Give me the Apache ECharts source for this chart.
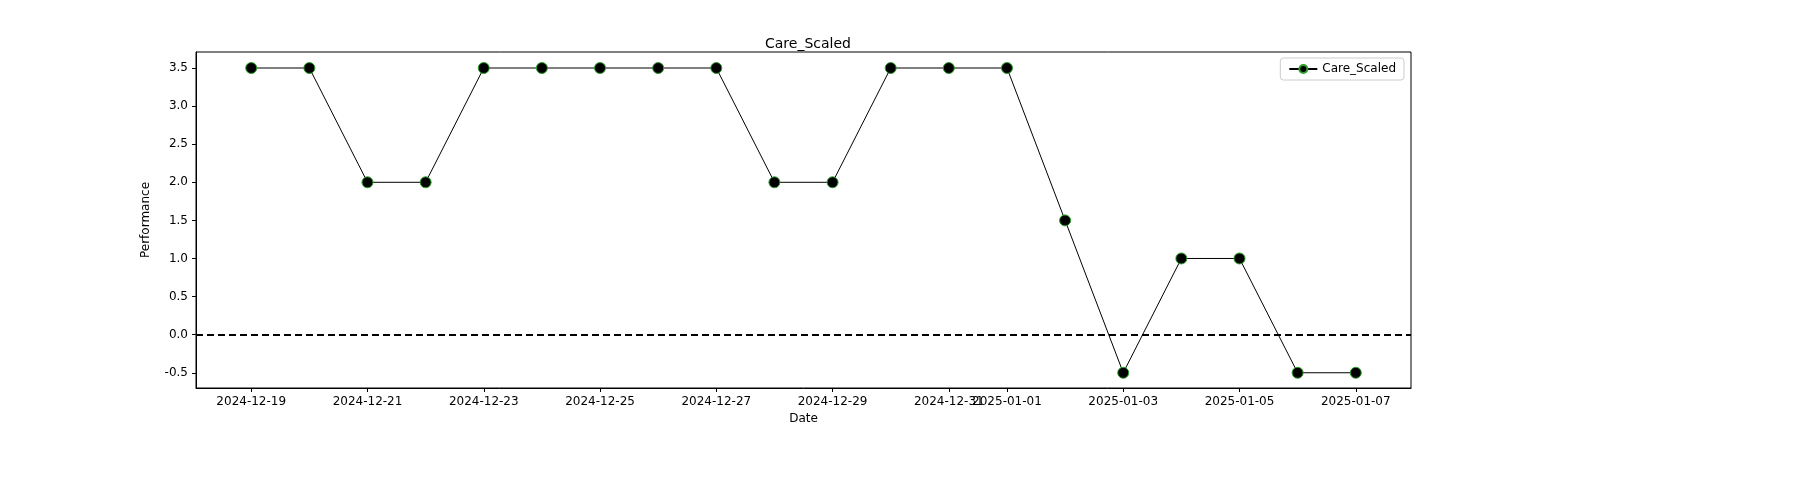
<!DOCTYPE html>
<html>
<head>
<meta charset="utf-8">
<script src="https://cdn.jsdelivr.net/npm/echarts@6/dist/echarts.min.js"></script>
<style>html,body{margin:0;padding:0;background:#fff}#main{width:1800px;height:500px}</style>
</head>
<body>
<div id="main"></div>
<script>
var dates = ['2024-12-19', '2024-12-20', '2024-12-21', '2024-12-22', '2024-12-23', '2024-12-24', '2024-12-25',
    '2024-12-26', '2024-12-27', '2024-12-28', '2024-12-29', '2024-12-30', '2024-12-31', '2025-01-01',
    '2025-01-02', '2025-01-03', '2025-01-04', '2025-01-05', '2025-01-06', '2025-01-07'];
var careScaled = [3.5, 3.5, 2, 2, 3.5, 3.5, 3.5, 3.5, 3.5, 2, 2, 3.5, 3.5, 3.5, 1.5, -0.5, 1, 1, -0.5, -0.5];
var xTickIdx = [0, 2, 4, 6, 8, 10, 12, 13, 15, 17, 19];
var yTicks = [-0.5, 0, 0.5, 1, 1.5, 2, 2.5, 3, 3.5];

var chart = echarts.init(document.getElementById('main'));
var font = 'DejaVu Sans';
var pts = careScaled.map(function (v, i) { return [i, v]; });

option = {
    animation: false,
    textStyle: {fontFamily: font},
    title: {
        text: 'Care_Scaled', left: 803, top: 32, textAlign: 'center',
        textStyle: {fontFamily: font, fontSize: 14, fontWeight: 'normal', color: '#000'}
    },
    legend: {
        right: 396, top: 58,
        data: ['Care_Scaled'],
        borderColor: '#ccc', borderWidth: 1, borderRadius: 3, padding: [5, 8],
        itemWidth: 28, itemHeight: 10,
        textStyle: {fontFamily: font, fontSize: 12, color: '#000'}
    },
    grid: {left: 196, right: 389, top: 52, bottom: 112},
    xAxis: {
        type: 'value', min: -0.95, max: 19.95,
        name: 'Date', nameLocation: 'middle', nameGap: 24,
        nameTextStyle: {fontFamily: font, fontSize: 12, color: '#000'},
        axisLine: {onZero: false, lineStyle: {color: '#000'}},
        splitLine: {show: false},
        axisTick: {show: true, customValues: xTickIdx, length: 4, lineStyle: {color: '#000'}},
        axisLabel: {
            customValues: xTickIdx, color: '#000', fontSize: 12, margin: 8,
            formatter: function (v) { return dates[Math.round(v)]; }
        }
    },
    yAxis: {
        type: 'value', min: -0.7, max: 3.71,
        name: 'Performance', nameLocation: 'middle', nameGap: 44,
        nameTextStyle: {fontFamily: font, fontSize: 12, color: '#000'},
        axisLine: {show: true, onZero: false, lineStyle: {color: '#000'}},
        splitLine: {show: false},
        axisTick: {show: true, customValues: yTicks, length: 4, lineStyle: {color: '#000'}},
        axisLabel: {
            customValues: yTicks, color: '#000', fontSize: 12,
            formatter: function (v) { return v.toFixed(1); }
        }
    },
    series: [{
        name: 'Care_Scaled',
        type: 'line',
        data: pts,
        symbol: 'circle',
        symbolSize: 11,
        lineStyle: {color: '#000', width: 1},
        itemStyle: {color: '#000', borderColor: '#2ca02c', borderWidth: 1},
        markLine: {
            silent: true, symbol: 'none', label: {show: false},
            lineStyle: {color: '#000', type: [7, 4], width: 2},
            data: [{yAxis: 0}]
        }
    }],
    // frame around the plot area
    graphic: [{
        type: 'rect', silent: true,
        shape: {x: 196, y: 52, width: 1215, height: 336},
        style: {fill: 'none', stroke: '#000', lineWidth: 1}
    }]
};
chart.setOption(option);
</script>
</body>
</html>
